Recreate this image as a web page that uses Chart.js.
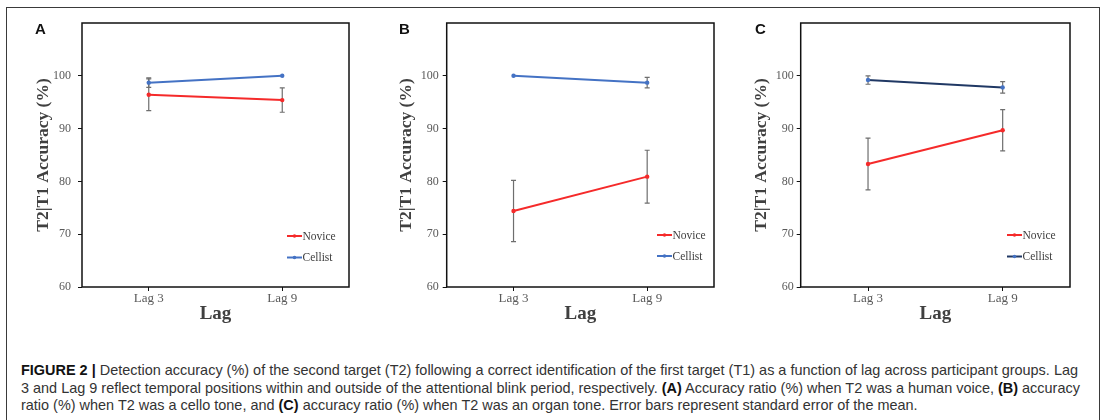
<!DOCTYPE html>
<html>
<head>
<meta charset="utf-8">
<script src="https://cdn.jsdelivr.net/npm/chart.js@4"></script>
<style>
html, body { margin: 0; padding: 0; background: #fff; }
body { width: 1101px; height: 420px; position: relative; overflow: hidden; }
#frame { position: absolute; left: 6px; top: 7px; width: 1094px; height: 440px; border: 1.5px solid #3a3a3a; box-sizing: border-box; }
canvas { position: absolute; top: 0; }
.letter { position: absolute; top: 20px; font: bold 15px 'Liberation Sans', Arial, sans-serif; color: #111; }
#caption { position: absolute; left: 21px; top: 362px; white-space: nowrap; transform-origin: 0 0; font-family: 'Liberation Sans', Arial, sans-serif; font-size: 14.5px; line-height: 17.5px; color: #333; }
#caption span { display: block; width: max-content; }
#caption b { color: #111; }
</style>
</head>
<body>
<div id="frame"></div>
<canvas id="panelA" width="370" height="330" style="left:0px"></canvas>
<canvas id="panelB" width="360" height="330" style="left:370px"></canvas>
<canvas id="panelC" width="371" height="330" style="left:730px"></canvas>
<div class="letter" style="left:35px">A</div>
<div class="letter" style="left:399px">B</div>
<div class="letter" style="left:755px">C</div>
<div id="caption"><span id="capLine1"><b>FIGURE 2 |</b> Detection accuracy (%) of the second target (T2) following a correct identification of the first target (T1) as a function of lag across participant groups. Lag</span><span>3 and Lag 9 reflect temporal positions within and outside of the attentional blink period, respectively. <b>(A)</b> Accuracy ratio (%) when T2 was a human voice, <b>(B)</b> accuracy</span><span>ratio (%) when T2 was a cello tone, and <b>(C)</b> accuracy ratio (%) when T2 was an organ tone. Error bars represent standard error of the mean.</span></div>
<script>
var lags = ['Lag 3', 'Lag 9'];
var yTicks = [60, 70, 80, 90, 100];
var groups = ['Novice', 'Cellist'];

// A: human voice
var voiceNovice = [96.4, 95.4];
var voiceNoviceErr = [3.0, 2.3];
var voiceCellist = [98.7, 100];
var voiceCellistErr = [0.9, 0];

// B: cello tone
var celloNovice = [74.4, 80.9];
var celloNoviceErr = [5.8, 5.0];
var celloCellist = [100, 98.7];
var celloCellistErr = [0, 1.0];

// C: organ tone
var organNovice = [83.3, 89.7];
var organNoviceErr = [4.9, 3.9];
var organCellist = [99.2, 97.8];
var organCellistErr = [0.8, 1.1];

var serif = "'Liberation Serif', 'Times New Roman', serif";

// squeeze the caption to the condensed width of the original
var cap = document.getElementById('caption');
var w1 = document.getElementById('capLine1').getBoundingClientRect().width;
cap.style.transform = 'scaleX(' + (1057 / w1) + ')';

var errorBars = {
  id: 'errorBars',
  beforeDatasetsDraw: function(chart) {
    var ctx = chart.ctx, xs = chart.scales.x, ys = chart.scales.y;
    ctx.save();
    ctx.strokeStyle = '#6e6e6e';
    ctx.lineWidth = 1.2;
    chart.data.datasets.forEach(function(ds) {
      ds.data.forEach(function(v, i) {
        var e = ds.errors[i];
        if (!e) return;
        var x = xs.getPixelForValue(i);
        var t = ys.getPixelForValue(v + e), b = ys.getPixelForValue(v - e);
        ctx.beginPath();
        ctx.moveTo(x, t); ctx.lineTo(x, b);
        ctx.moveTo(x - 2.5, t); ctx.lineTo(x + 2.5, t);
        ctx.moveTo(x - 2.5, b); ctx.lineTo(x + 2.5, b);
        ctx.stroke();
      });
    });
    ctx.restore();
  }
};

var boxAndLegend = {
  id: 'boxAndLegend',
  afterDraw: function(chart) {
    var ctx = chart.ctx, a = chart.chartArea;
    var opts = chart.options.plugins.boxAndLegend;
    ctx.save();
    ctx.strokeStyle = '#111';
    ctx.lineWidth = 1.5;
    ctx.strokeRect(a.left, a.top, a.right - a.left, a.bottom - a.top);
    ctx.font = '11.5px ' + serif;
    ctx.textBaseline = 'middle';
    chart.data.datasets.forEach(function(ds, k) {
      var x0 = a.right - opts.right, y = a.top + opts.top + k * opts.gap;
      ctx.strokeStyle = ds.borderColor;
      ctx.lineWidth = 2;
      ctx.beginPath(); ctx.moveTo(x0, y); ctx.lineTo(x0 + 15, y); ctx.stroke();
      ctx.fillStyle = ds.pointBackgroundColor;
      ctx.beginPath(); ctx.arc(x0 + 7.5, y, 1.8, 0, Math.PI * 2); ctx.fill();
      ctx.fillStyle = '#404040';
      ctx.fillText(ds.label, x0 + 15.5, y + 0.5);
    });
    ctx.restore();
  }
};

function makePanel(id, novice, noviceErr, cellist, cellistErr, cellistLine, lay) {
  new Chart(document.getElementById(id), {
    type: 'line',
    data: {
      labels: lags,
      datasets: [
        { label: groups[0], data: novice, errors: noviceErr, borderColor: '#f52a2a', pointBackgroundColor: '#f52a2a',
          borderWidth: 2, pointRadius: 2.2, pointBorderWidth: 0, tension: 0 },
        { label: groups[1], data: cellist, errors: cellistErr, borderColor: cellistLine, pointBackgroundColor: '#4472c4',
          borderWidth: 2, pointRadius: 2.2, pointBorderWidth: 0, tension: 0 }
      ]
    },
    options: {
      responsive: false,
      animation: false,
      layout: { padding: { left: lay.padLeft, right: lay.padRight, top: 23, bottom: 5 } },
      plugins: {
        legend: { display: false },
        tooltip: { enabled: false },
        boxAndLegend: lay.legend
      },
      scales: {
        x: {
          offset: true,
          afterFit: function(s) { s.height = 38; },
          grid: { drawOnChartArea: false, drawTicks: true, tickLength: 4, color: '#111', lineWidth: 1 },
          border: { display: false },
          ticks: { padding: 0, color: '#595959', font: { family: serif, size: 13 } },
          title: { display: true, text: 'Lag', color: '#404040', padding: 0, font: { family: serif, size: 19, weight: 'bold' } }
        },
        y: {
          min: 60, max: 110,
          afterFit: function(s) { s.width = lay.yWidth; },
          afterBuildTicks: function(s) { s.ticks = yTicks.map(function(v) { return { value: v }; }); },
          grid: { drawOnChartArea: false, drawTicks: true, tickLength: 4, color: '#111', lineWidth: 1 },
          border: { display: false },
          ticks: { padding: lay.tickPad, color: '#595959', font: { family: serif, size: 12 } },
          title: { display: true, text: 'T2|T1 Accuracy (%)', color: '#404040', padding: 0, font: { family: serif, size: 17.5, weight: 'bold' } }
        }
      }
    },
    plugins: [errorBars, boxAndLegend]
  });
}

makePanel('panelA', voiceNovice, voiceNoviceErr, voiceCellist, voiceCellistErr, '#4472c4',
  { padLeft: 32.5, yWidth: 49.5, padRight: 21, tickPad: 7, legend: { right: 62, top: 213, gap: 21.5 } });
makePanel('panelB', celloNovice, celloNoviceErr, celloCellist, celloCellistErr, '#4472c4',
  { padLeft: 26, yWidth: 50.7, padRight: 16, tickPad: 4, legend: { right: 57, top: 212, gap: 21 } });
makePanel('panelC', organNovice, organNoviceErr, organCellist, organCellistErr, '#203864',
  { padLeft: 21, yWidth: 49.7, padRight: 31, tickPad: 3, legend: { right: 63, top: 212, gap: 21.5 } });
</script>
</body>
</html>
